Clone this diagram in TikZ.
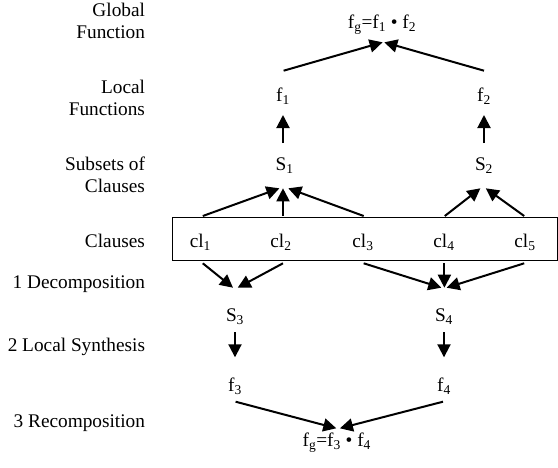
\documentclass[tikz,border=0pt]{standalone}
\usepackage{fontspec}
\setmainfont{Liberation Serif}
\usetikzlibrary{arrows.meta}
\begin{document}
\begin{tikzpicture}[x=1pt,y=-1pt,
  txt/.style={inner sep=0pt,outer sep=0pt,font=\fontsize{19.3}{22.5}\selectfont},
  item/.style={txt,anchor=base},
  rowlbl/.style={txt,anchor=base east},
  rowlbl2/.style={txt,anchor=north east,align=right},
  arr/.style={line width=2pt,-{Triangle[length=13pt,width=13pt]}},
  clausebox/.style={draw,line width=1pt,inner sep=0pt,minimum width=384.5pt,minimum height=42.7pt}]
\useasboundingbox (0,0) rectangle (558,467);
% row labels
\node[rowlbl2] (lglobal) at (145,2.8) {Global\\Function};
\node[rowlbl2] (llocal) at (145,80.1) {Local\\Functions};
\node[rowlbl2] (lsubsets) at (145,156.8) {Subsets of\\Clauses};
\node[rowlbl] (lclauses) at (145,247) {Clauses};
\node[rowlbl] (ldecomp) at (145,288) {1 Decomposition};
\node[rowlbl] (lsynth) at (145,351.7) {2 Local Synthesis};
\node[rowlbl] (lrecomp) at (145,427.3) {3 Recomposition};
% box
\node[clausebox] (box) at (364.75,238.65) {};
% items
\node[item] (fgA) at (382,28.3) {f\textsubscript{g}=f\textsubscript{1} • f\textsubscript{2}};
\node[item] (f1) at (283,101) {f\textsubscript{1}};
\node[item] (f2) at (484,101) {f\textsubscript{2}};
\node[item] (S1) at (284.7,170) {S\textsubscript{1}};
\node[item] (S2) at (484,170) {S\textsubscript{2}};
\node[item] (cl1) at (200.4,247) {cl\textsubscript{1}};
\node[item] (cl2) at (281,247) {cl\textsubscript{2}};
\node[item] (cl3) at (363,247) {cl\textsubscript{3}};
\node[item] (cl4) at (444,247) {cl\textsubscript{4}};
\node[item] (cl5) at (525,247) {cl\textsubscript{5}};
\node[item] (S3) at (235,321.7) {S\textsubscript{3}};
\node[item] (S4) at (444,321.7) {S\textsubscript{4}};
\node[item] (f3) at (235,391.7) {f\textsubscript{3}};
\node[item] (f4) at (444,391.7) {f\textsubscript{4}};
\node[item] (fgB) at (336.8,446.7) {f\textsubscript{g}=f\textsubscript{3} • f\textsubscript{4}};
% arrows up
\draw[arr] ([xshift=0.6pt,yshift=30.3pt]f1.base) -- ([xshift=0.6pt,yshift=-14pt]fgA.base);
\draw[arr] ([yshift=30.3pt]f2.base) -- ([xshift=2.3pt,yshift=-14pt]fgA.base);
\draw[arr] ([xshift=-1.7pt,yshift=27pt]S1.base) -- ([yshift=-14pt]f1.base);
\draw[arr] ([yshift=27pt]S2.base) -- ([yshift=-14pt]f2.base);
\draw[arr] ([xshift=2.4pt,yshift=31pt]cl1.base) -- ([xshift=-5.3pt,yshift=-18.3pt]S1.base);
\draw[arr] ([xshift=2pt,yshift=31pt]cl2.base) -- ([xshift=-1.7pt,yshift=-18.3pt]S1.base);
\draw[arr] ([xshift=0.7pt,yshift=31pt]cl3.base) -- ([xshift=3.6pt,yshift=-18.3pt]S1.base);
\draw[arr] ([xshift=0.8pt,yshift=31pt]cl4.base) -- ([xshift=-3.6pt,yshift=-18.3pt]S2.base);
\draw[arr] ([xshift=-0.8pt,yshift=31pt]cl5.base) -- ([xshift=1.8pt,yshift=-18.3pt]S2.base);
% arrows down
\draw[arr] ([xshift=2.4pt,yshift=-16.3pt]cl1.base) -- ([xshift=-2pt,yshift=34pt]S3.base);
\draw[arr] ([xshift=2pt,yshift=-16.3pt]cl2.base) -- ([xshift=2.7pt,yshift=34pt]S3.base);
\draw[arr] ([xshift=0.7pt,yshift=-16.3pt]cl3.base) -- ([xshift=-2.7pt,yshift=34pt]S4.base);
\draw[arr] ([xshift=0.4pt,yshift=-16.3pt]cl4.base) -- ([xshift=0.4pt,yshift=34pt]S4.base);
\draw[arr] ([xshift=-0.8pt,yshift=-16.3pt]cl5.base) -- ([xshift=2.6pt,yshift=34pt]S4.base);
\draw[arr] ([yshift=-10.6pt]S3.base) -- ([yshift=34.4pt]f3.base);
\draw[arr] ([yshift=-10.6pt]S4.base) -- ([yshift=34.4pt]f4.base);
\draw[arr] ([xshift=0.6pt,yshift=-10pt]f3.base) -- ([xshift=-0.5pt,yshift=18.4pt]fgB.base);
\draw[arr] ([xshift=-1pt,yshift=-10pt]f4.base) -- ([xshift=3.1pt,yshift=18.4pt]fgB.base);
\end{tikzpicture}
\end{document}
